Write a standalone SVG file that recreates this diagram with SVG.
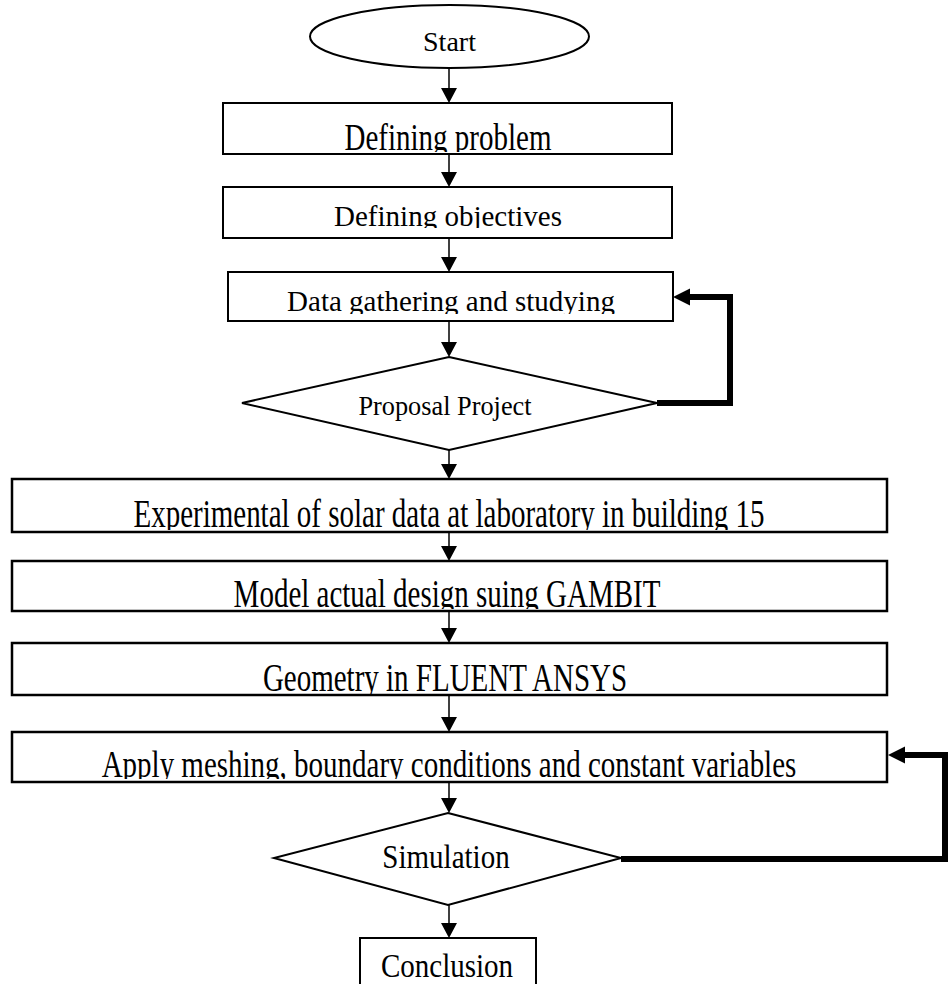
<svg xmlns="http://www.w3.org/2000/svg" width="950" height="984" viewBox="0 0 950 984">
<style>
  .shape { fill: #ffffff; stroke: #000000; stroke-width: 2; }
  .wide { fill: #ffffff; stroke: #000000; stroke-width: 2.5; }
  .lbl { font-family: "Liberation Serif", "Times New Roman", serif; font-size: 29px; fill: #000000; text-anchor: middle; }
  .thin { fill: none; stroke: #000000; stroke-width: 1.5; marker-end: url(#ah); }
  .thick { fill: none; stroke: #000000; stroke-width: 6; stroke-linejoin: miter; marker-end: url(#ahk); }
</style>
<defs>
  <marker id="ah" markerUnits="userSpaceOnUse" markerWidth="16" markerHeight="16" refX="0" refY="8" orient="auto" overflow="visible">
    <path d="M0,0 L15,8 L0,16 z" fill="#000000"/>
  </marker>
  <marker id="ahk" markerUnits="userSpaceOnUse" markerWidth="18" markerHeight="18" refX="0" refY="8.5" orient="auto" overflow="visible">
    <path d="M0,0 L17,8.5 L0,17 z" fill="#000000"/>
  </marker>
  <clipPath id="c1"><rect x="224" y="104" width="447" height="48"/></clipPath>
  <clipPath id="c2"><rect x="224" y="188" width="447" height="40"/></clipPath>
  <clipPath id="c3"><rect x="229" y="273" width="443" height="41"/></clipPath>
  <clipPath id="c5"><rect x="13" y="480" width="873" height="50"/></clipPath>
  <clipPath id="c6"><rect x="13" y="562" width="873" height="47"/></clipPath>
  <clipPath id="c7"><rect x="13" y="644" width="873" height="50"/></clipPath>
  <clipPath id="c8"><rect x="13" y="733" width="873" height="46"/></clipPath>
</defs>

<g id="connectors">
  <line class="thin" x1="449" y1="68" x2="449" y2="88"/>
  <line class="thin" x1="449" y1="154" x2="449" y2="172"/>
  <line class="thin" x1="449" y1="238" x2="449" y2="257"/>
  <line class="thin" x1="449" y1="321" x2="449" y2="342"/>
  <line class="thin" x1="449" y1="450" x2="449" y2="464"/>
  <line class="thin" x1="449" y1="532" x2="449" y2="546"/>
  <line class="thin" x1="449" y1="611" x2="449" y2="628"/>
  <line class="thin" x1="449" y1="695" x2="449" y2="717"/>
  <line class="thin" x1="449" y1="782" x2="449" y2="798"/>
  <line class="thin" x1="449" y1="905" x2="449" y2="923"/>
  <polyline class="thick" points="657,403 730,403 730,297 690,297"/>
  <polyline class="thick" points="621,859 945,859 945,755 905,755"/>
</g>

<g id="start">
  <ellipse class="shape" cx="449.5" cy="36.5" rx="139.5" ry="31.5"/>
  <text class="lbl" x="449.5" y="50.5" style="font-size:28px">Start</text>
</g>

<g id="defining-problem">
  <rect class="shape" x="223" y="103" width="449" height="51"/>
  <g clip-path="url(#c1)"><text class="lbl" transform="translate(448,150) scale(1,1.3)">Defining problem</text></g>
</g>

<g id="defining-objectives">
  <rect class="shape" x="223" y="187" width="449" height="51"/>
  <g clip-path="url(#c2)"><text class="lbl" transform="translate(448,226)">Defining objectives</text></g>
</g>

<g id="data-gathering">
  <rect class="shape" x="228" y="272" width="445" height="49"/>
  <g clip-path="url(#c3)"><text class="lbl" transform="translate(451,311)">Data gathering and studying</text></g>
</g>

<g id="proposal-project">
  <polygon class="shape" points="449,357 657,403 449,450 242,403"/>
  <text class="lbl" x="445" y="415" style="font-size:26.3px">Proposal Project</text>
</g>

<g id="experimental">
  <rect class="wide" x="12" y="479" width="875" height="53"/>
  <g clip-path="url(#c5)"><text class="lbl" transform="translate(449,527) scale(1,1.37)">Experimental of solar data at laboratory in building 15</text></g>
</g>

<g id="model-design">
  <rect class="wide" x="12" y="561" width="875" height="50"/>
  <g clip-path="url(#c6)"><text class="lbl" transform="translate(447,606.5) scale(1,1.38)">Model actual design suing GAMBIT</text></g>
</g>

<g id="geometry">
  <rect class="wide" x="12" y="643" width="875" height="52"/>
  <g clip-path="url(#c7)"><text class="lbl" transform="translate(445,691) scale(1,1.4)">Geometry in FLUENT ANSYS</text></g>
</g>

<g id="apply-meshing">
  <rect class="wide" x="12" y="732" width="875" height="50"/>
  <g clip-path="url(#c8)"><text class="lbl" transform="translate(449,777) scale(1,1.34)">Apply meshing, boundary conditions and constant variables</text></g>
</g>

<g id="simulation">
  <polygon class="shape" points="448,813 621,858 448,905 274,858"/>
  <text class="lbl" transform="translate(446,868) scale(1,1.13)">Simulation</text>
</g>

<g id="conclusion">
  <rect class="shape" x="360" y="938" width="176" height="60"/>
  <text class="lbl" transform="translate(447,977) scale(1,1.13)">Conclusion</text>
</g>
</svg>
